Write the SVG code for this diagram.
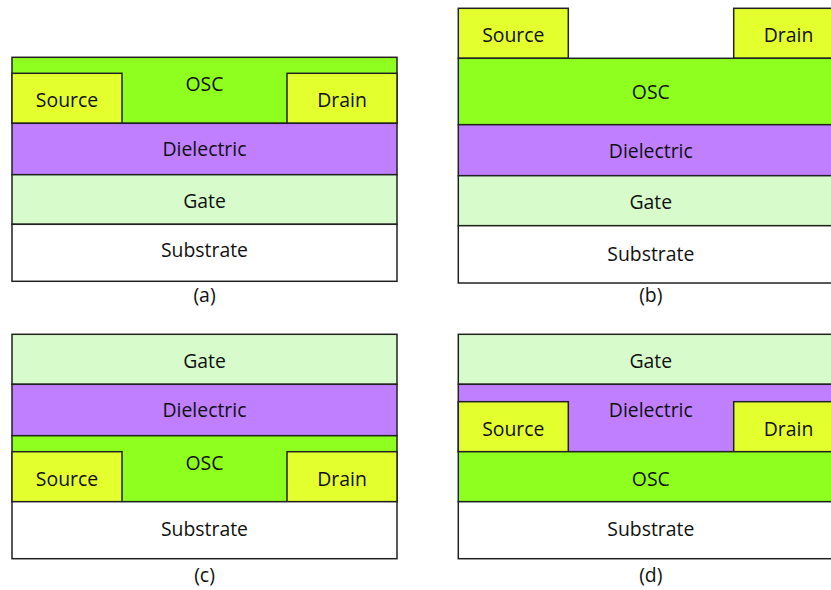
<svg xmlns="http://www.w3.org/2000/svg" width="831" height="590" viewBox="0 0 831 590">
<style>
.l{stroke:#222;stroke-width:1.5}
.osc{fill:#8fff1f}
.sd{fill:#e4ff2e}
.di{fill:#bf7fff}
.ga{fill:#d7fbcb}
.su{fill:#fff}
text{font-family:"Open Sans","Noto Sans",sans-serif;font-size:19.4px;fill:#111;text-anchor:middle}
</style>
<!-- Panel (a) -->
<g id="panel-a">
<g id="a-osc"><rect class="l osc" x="12" y="57.3" width="385" height="66"/><text x="204.5" y="90.5">OSC</text></g>
<g id="a-source"><rect class="l sd" x="12" y="73.3" width="110" height="50"/><text x="67" y="107">Source</text></g>
<g id="a-drain"><rect class="l sd" x="287" y="73.3" width="110" height="50"/><text x="342" y="107">Drain</text></g>
<g id="a-dielectric"><rect class="l di" x="12" y="123.3" width="385" height="51.4"/><text x="204.5" y="155.7">Dielectric</text></g>
<g id="a-gate"><rect class="l ga" x="12" y="174.7" width="385" height="49.6"/><text x="204.5" y="208">Gate</text></g>
<g id="a-substrate"><rect class="l su" x="12" y="224.3" width="385" height="57"/><text x="204.5" y="257">Substrate</text></g>
<text x="204.5" y="302">(a)</text>
</g>
<!-- Panel (b) -->
<g id="panel-b">
<g id="b-source"><rect class="l sd" x="458.3" y="8.3" width="110" height="50"/><text x="513.3" y="41.5">Source</text></g>
<g id="b-drain"><rect class="l sd" x="733.7" y="8.3" width="110" height="50"/><text x="788.5" y="41.5">Drain</text></g>
<g id="b-osc"><rect class="l osc" x="458.3" y="58.3" width="385" height="66.4"/><text x="650.8" y="99">OSC</text></g>
<g id="b-dielectric"><rect class="l di" x="458.3" y="124.7" width="385" height="51"/><text x="650.8" y="158">Dielectric</text></g>
<g id="b-gate"><rect class="l ga" x="458.3" y="175.7" width="385" height="50"/><text x="650.8" y="209">Gate</text></g>
<g id="b-substrate"><rect class="l su" x="458.3" y="225.7" width="385" height="57.3"/><text x="650.8" y="260.5">Substrate</text></g>
<text x="650.8" y="302">(b)</text>
</g>
<!-- Panel (c) -->
<g id="panel-c">
<g id="c-gate"><rect class="l ga" x="12" y="334.3" width="385" height="50"/><text x="204.5" y="368">Gate</text></g>
<g id="c-dielectric"><rect class="l di" x="12" y="384.3" width="385" height="51.4"/><text x="204.5" y="417">Dielectric</text></g>
<g id="c-osc"><rect class="l osc" x="12" y="435.7" width="385" height="66"/><text x="204.5" y="470">OSC</text></g>
<g id="c-source"><rect class="l sd" x="12" y="451.7" width="110" height="50"/><text x="67" y="486">Source</text></g>
<g id="c-drain"><rect class="l sd" x="287" y="451.7" width="110" height="50"/><text x="342" y="486">Drain</text></g>
<g id="c-substrate"><rect class="l su" x="12" y="501.7" width="385" height="57"/><text x="204.5" y="536">Substrate</text></g>
<text x="204.5" y="582">(c)</text>
</g>
<!-- Panel (d) -->
<g id="panel-d">
<g id="d-gate"><rect class="l ga" x="458.3" y="334.3" width="385" height="50"/><text x="650.8" y="368">Gate</text></g>
<g id="d-dielectric"><rect class="l di" x="458.3" y="384.3" width="385" height="67.4"/><text x="650.8" y="417">Dielectric</text></g>
<g id="d-source"><rect class="l sd" x="458.3" y="401.7" width="110" height="50"/><text x="513.3" y="435.5">Source</text></g>
<g id="d-drain"><rect class="l sd" x="733.7" y="401.7" width="110" height="50"/><text x="788.5" y="435.5">Drain</text></g>
<g id="d-osc"><rect class="l osc" x="458.3" y="451.7" width="385" height="50"/><text x="650.8" y="486">OSC</text></g>
<g id="d-substrate"><rect class="l su" x="458.3" y="501.7" width="385" height="57"/><text x="650.8" y="536">Substrate</text></g>
<text x="650.8" y="582">(d)</text>
</g>
</svg>
